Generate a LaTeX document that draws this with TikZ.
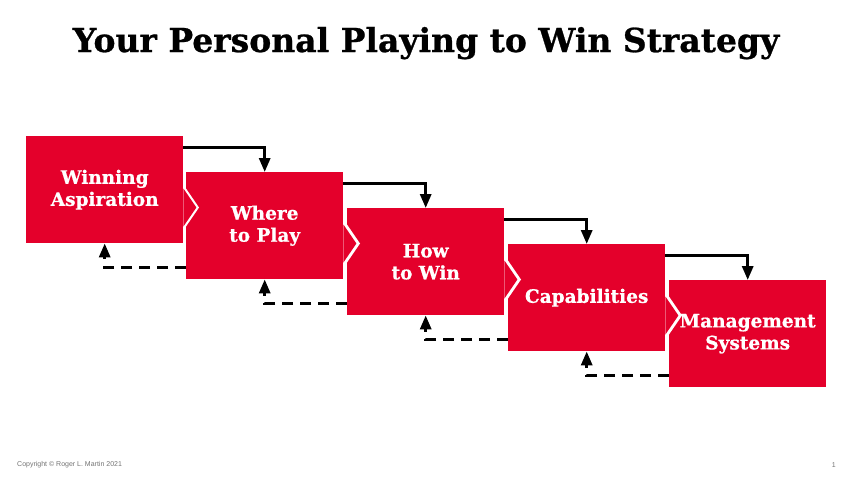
\documentclass[tikz,border=0pt]{standalone}
\usepackage{fontspec}
\setmainfont{DejaVu Serif}[BoldFeatures={FakeBold=0.8}]
\setsansfont{Liberation Sans}
\usetikzlibrary{arrows.meta}
\definecolor{ptwred}{HTML}{E4002B}
\tikzset{
  StepStyle/.style = { rectangle, fill = ptwred, text = white,
                       minimum width = 157pt, minimum height = 107pt,
                       inner sep = 0pt, anchor = north west, align = center,
                       font = \fontsize{18.5}{22}\selectfont\bfseries },
  ForwardStyle/.style = { line width = 3pt,
                          -{Triangle[length=14pt,width=11pt]} },
  BackStyle/.style = { ForwardStyle, dash pattern = on 11pt off 7pt },
  NoteStyle/.style = { text = black!55, font = \sffamily\fontsize{7}{8}\selectfont,
                       inner sep = 0pt }
}

\begin{document}
\begin{tikzpicture}[x=1pt, y=-1pt]
  \useasboundingbox (0,0) rectangle (853,480);

  \node[anchor=base, font=\fontsize{33}{40}\selectfont\bfseries](TITLE) at (426,52)
    {Your Personal Playing to Win Strategy};

  \node[StepStyle](WA) at (26,136) {Winning\\Aspiration};
  \node[StepStyle](WP) at (186,172) {Where\\to Play};
  \node[StepStyle](HW) at (347,208) {How\\to Win};
  \node[StepStyle](CAP) at (508,244) {Capabilities};
  \node[StepStyle](MS) at (669,280) {Management\\Systems};

  % chevron joints
  \fill[white] ([yshift=-16.5pt]WP.north west) -- ++(13pt,-19pt) -- ++(-13pt,-19pt) -- cycle;
  \fill[ptwred] ([yshift=-52.5pt]WA.north east) -- ++(13pt,-19pt) -- ++(-13pt,-19pt) -- cycle;
  \fill[white] ([yshift=-16.5pt]HW.north west) -- ++(13pt,-19pt) -- ++(-13pt,-19pt) -- cycle;
  \fill[ptwred] ([yshift=-52.5pt]WP.north east) -- ++(13pt,-19pt) -- ++(-13pt,-19pt) -- cycle;
  \fill[white] ([yshift=-16.5pt]CAP.north west) -- ++(13pt,-19pt) -- ++(-13pt,-19pt) -- cycle;
  \fill[ptwred] ([yshift=-52.5pt]HW.north east) -- ++(13pt,-19pt) -- ++(-13pt,-19pt) -- cycle;
  \fill[white] ([yshift=-16.5pt]MS.north west) -- ++(13pt,-19pt) -- ++(-13pt,-19pt) -- cycle;
  \fill[ptwred] ([yshift=-52.5pt]CAP.north east) -- ++(13pt,-19pt) -- ++(-13pt,-19pt) -- cycle;

  \draw[ForwardStyle] ([yshift=-11pt]WA.north east) -| (WP.north);
  \draw[ForwardStyle] ([yshift=-11pt]WP.north east) -| (HW.north);
  \draw[ForwardStyle] ([yshift=-11pt]HW.north east) -| (CAP.north);
  \draw[ForwardStyle] ([yshift=-11pt]CAP.north east) -| (MS.north);

  \draw[BackStyle] ([yshift=12pt]WP.south west) -| (WA.south);
  \draw[BackStyle] ([yshift=12pt]HW.south west) -| (WP.south);
  \draw[BackStyle] ([yshift=12pt]CAP.south west) -| (HW.south);
  \draw[BackStyle] ([yshift=12pt]MS.south west) -| (CAP.south);

  \node[NoteStyle, anchor=west](COPY) at (17,465) {Copyright © Roger L. Martin 2021};
  \node[NoteStyle, anchor=east](PAGE) at (836,465) {1};
\end{tikzpicture}
\end{document}
